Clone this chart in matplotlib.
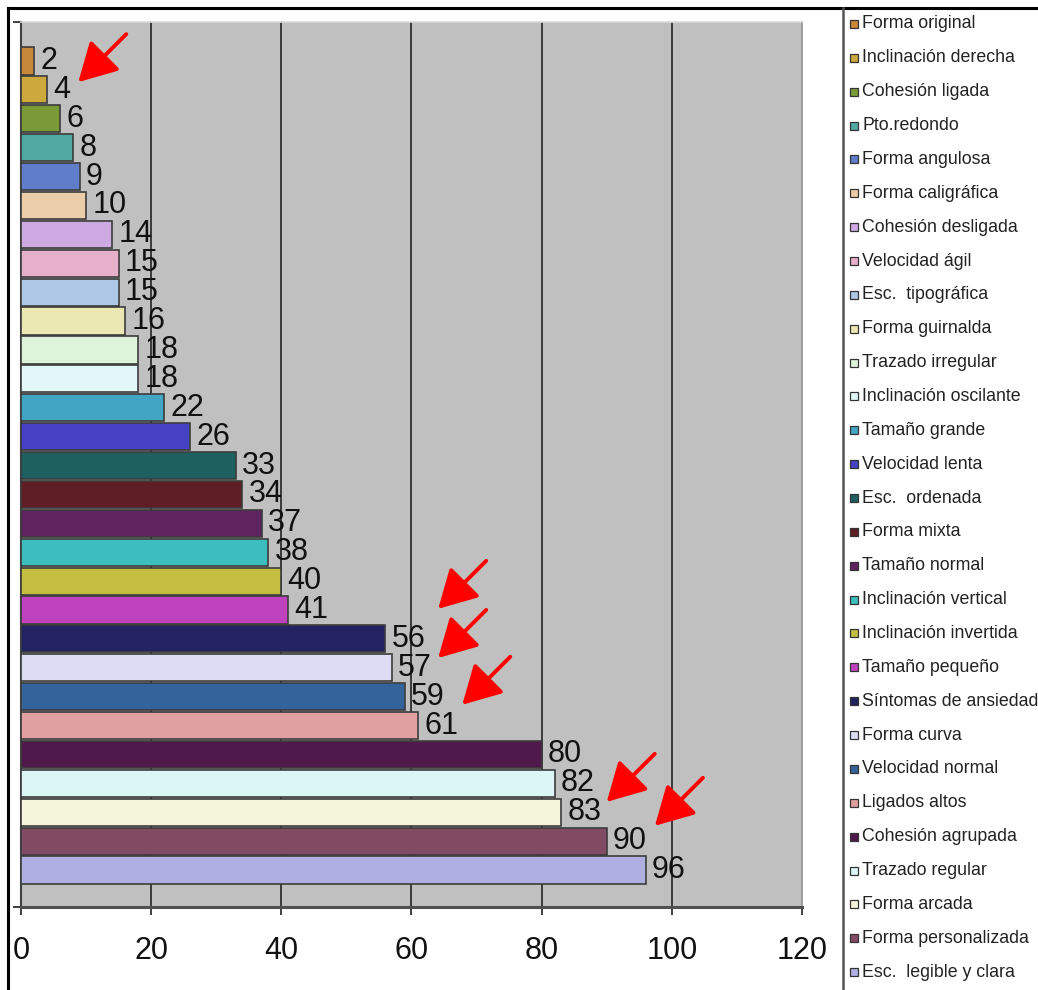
import matplotlib.pyplot as plt
from matplotlib.lines import Line2D
from matplotlib.patches import Rectangle
from matplotlib import font_manager

# categories, top to bottom
labels = ["Forma original", "Inclinación derecha", "Cohesión ligada", "Pto.redondo",
          "Forma angulosa", "Forma caligráfica", "Cohesión desligada", "Velocidad ágil",
          "Esc.  tipográfica", "Forma guirnalda", "Trazado irregular", "Inclinación oscilante",
          "Tamaño grande", "Velocidad lenta", "Esc.  ordenada", "Forma mixta",
          "Tamaño normal", "Inclinación vertical", "Inclinación invertida", "Tamaño pequeño",
          "Síntomas de ansiedad", "Forma curva", "Velocidad normal", "Ligados altos",
          "Cohesión agrupada", "Trazado regular", "Forma arcada", "Forma personalizada",
          "Esc.  legible y clara"]
values = [2, 4, 6, 8, 9, 10, 14, 15, 15, 16, 18, 18, 22, 26, 33, 34, 37, 38, 40, 41,
          56, 57, 59, 61, 80, 82, 83, 90, 96]
colors = ["#C8883A", "#CDA83C", "#7A9A38", "#50A8A2", "#5F7DC8", "#EBCDAA", "#CDAAE1",
          "#E6AFCA", "#AFC8E6", "#EBE8B4", "#DDF3DA", "#E2F8F8", "#41A5C3", "#4641C3",
          "#1E5F5F", "#5F1E23", "#5F235F", "#3CBEBE", "#C3BE41", "#BE41BE", "#232364",
          "#DCDCF5", "#32649B", "#E1A0A0", "#50194B", "#DCF5F5", "#F5F5DC", "#824B64",
          "#AFAFE1"]
xticks = [0, 20, 40, 60, 80, 100, 120]

# arrows: which bar they point at, and head position relative to the bar end
arrow_bars = [1, 20, 21, 22, 26, 27]
arrow_dx = [4.8, 8.1, 7.1, 8.8, 7.0, 7.4]
arrow_dy = [-0.27, -1.04, -0.34, 0.28, -0.36, -0.53]

names = {f.name for f in font_manager.fontManager.ttflist}
num_font = ["Liberation Sans Narrow", "Liberation Sans", "DejaVu Sans"]
if "Liberation Sans Narrow" not in names:
    num_font = ["Liberation Sans", "DejaVu Sans"]
leg_font = ["Liberation Sans", "DejaVu Sans"]

W, H = 1038, 990
fig = plt.figure(figsize=(W / 100, H / 100), dpi=100)
fig.patch.set_facecolor("white")

ax = fig.add_axes([21 / W, 1 - 907 / H, (802 - 21) / W, (907 - 22) / H])
ax.set_facecolor("#C0C0C0")

n = len(values)
ypos = list(range(n))
bars = ax.barh(ypos, values, height=0.94, color=colors, edgecolor="#3C3C3C",
               linewidth=1.2, zorder=3)

for i, v in enumerate(values):
    ax.annotate(str(v), (v, i), xytext=(4.5, 0), textcoords="offset points",
                va="center", ha="left", fontsize=22, family=num_font,
                color="#111111", zorder=5)

ax.set_xlim(0, 120)
ax.set_ylim(n - 1 + 1.28, -1.35)
ax.set_xticks(xticks)
ax.set_xticklabels([str(t) for t in xticks], fontsize=22, family=num_font, color="#111111")
ax.set_yticks([n - 1 + 1.28, -1.35])
ax.set_yticklabels([])
ax.tick_params(axis="x", direction="out", length=6, width=1.4, color="#404040", pad=15)
ax.tick_params(axis="y", direction="out", length=6, width=1.4, color="#404040")

for t in xticks[1:-1]:
    ax.axvline(t, color="#3A3A3A", lw=1.4, zorder=1)

ax.spines["left"].set_color("#404040")
ax.spines["left"].set_linewidth(1.5)
ax.spines["bottom"].set_color("#505050")
ax.spines["bottom"].set_linewidth(2.2)
ax.spines["top"].set_color("#DADADA")
ax.spines["top"].set_linewidth(1.2)
ax.spines["right"].set_color("#909090")
ax.spines["right"].set_linewidth(1.2)

# red arrows
for b, dx, dy in zip(arrow_bars, arrow_dx, arrow_dy):
    ax.annotate("", xy=(values[b] + dx, b + dy), xytext=(48, 48),
                textcoords="offset pixels",
                arrowprops=dict(arrowstyle="-|>,head_length=0.9,head_width=0.5",
                                mutation_scale=26, color="#FF0000", lw=2.8,
                                shrinkA=0, shrinkB=0),
                zorder=6, annotation_clip=False)

# legend box on the right, drawn by hand
for i, (lab, c) in enumerate(zip(labels, colors)):
    yc = 24 + i * 33.86
    fig.patches.append(Rectangle((850 / W, 1 - (yc + 4) / H), 8 / W, 8 / H,
                                 transform=fig.transFigure, facecolor=c,
                                 edgecolor="#333333", linewidth=0.9))
    fig.text(862 / W, 1 - yc / H, lab, fontsize=12.8, family=leg_font,
             color="#222222", va="center", ha="left")

# outer frame and legend separator
fig.lines.append(Line2D([8 / W, 1], [1 - 8 / H, 1 - 8 / H], transform=fig.transFigure,
                        color="black", lw=2.2))
fig.lines.append(Line2D([8 / W, 8 / W], [0, 1 - 8 / H], transform=fig.transFigure,
                        color="black", lw=2.2))
fig.lines.append(Line2D([843 / W, 843 / W], [0, 1 - 8 / H], transform=fig.transFigure,
                        color="#555555", lw=1.8))

fig.savefig("out.png", dpi=100, facecolor="white")
